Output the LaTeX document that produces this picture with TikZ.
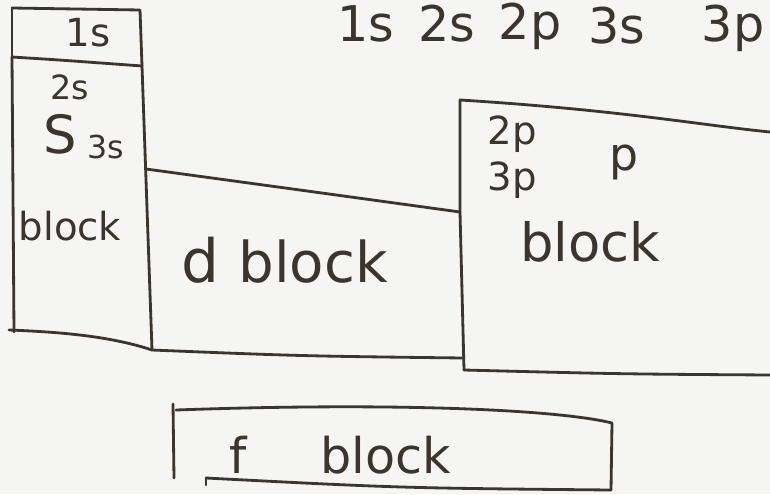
\documentclass[tikz,border=0pt]{standalone}
\usepackage{fontspec}
\setmainfont{DejaVu Sans}
\definecolor{ink}{HTML}{3A352E}
\definecolor{paper}{HTML}{F5F5F3}
\begin{document}
\begin{tikzpicture}[x=0.02cm,y=-0.02cm,
  pen/.style={draw=ink,line width=1.6pt,line join=round,line cap=round},
  hand/.style={text=ink,inner sep=0pt,font=\fontsize{#1}{#1}\selectfont},
  hand/.default=20]
\useasboundingbox (0,0) rectangle (770,494);
\clip (0,0) rectangle (770,494);
\fill[paper] (0,0) rectangle (770,494);
% top row
\node[hand=28] (t1) at (366,24) {1s};
\node[hand=28] (t2) at (447,24) {2s};
\node[hand=28] (t3) at (530,26) {2p};
\node[hand=28] (t4) at (617,26) {3s};
\node[hand=28] (t5) at (733,28) {3p};
% s block column
\draw[pen] (12,8) -- (140,10) -- (142,66);
\draw[pen] (12,8) -- (12,57);
\draw[pen] (12,57) .. controls (60,60) .. (142,66);
\draw[pen] (12,57) -- (14,332);
\draw[pen] (142,66) -- (152,350);
\draw[pen] (9,330) .. controls (60,332) and (110,336) .. (152,350);
\node[hand=22] (s1s) at (88,33) {1s};
\node[hand=19] (s2s) at (70,87) {2s};
\node[hand=30] (sS) at (60,134) {S};
\node[hand=18] (s3s) at (106,147) {3s};
\node[hand=22] (sblk) at (70,226) {block};
% d block
\draw[pen] (146,169) .. controls (300,190) .. (460,212);
\draw[pen] (152,350) .. controls (300,356) .. (463,358);
\node[hand=34] (dd) at (200,260) {d};
\node[hand=32] (dblk) at (313,262) {block};
% p block
\draw[pen] (460,100) -- (460,212) -- (464,370);
\draw[pen] (460,100) .. controls (620,110) and (700,125) .. (770,132);
\draw[pen] (464,370) .. controls (620,374) .. (770,375);
\node[hand=22] (p2p) at (512,134) {2p};
\node[hand=22] (p3p) at (512,180) {3p};
\node[hand=26] (pp) at (624,162) {p};
\node[hand=30] (pblk) at (590,242) {block};
% f block
\draw[pen] (173,404) -- (174,478);
\draw[pen] (176,410) .. controls (400,402) and (560,410) .. (612,423) -- (611,490);
\draw[pen] (206,478) -- (206,485);
\draw[pen] (206,478) .. controls (400,488) .. (611,490);
\node[hand=28] (flbl) at (340,455) {f\hspace{1.5em}block};
\end{tikzpicture}
\end{document}
